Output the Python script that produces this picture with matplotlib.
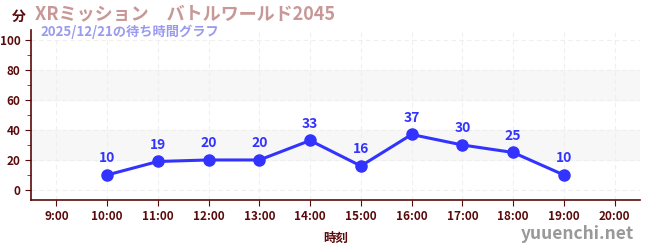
import matplotlib.pyplot as plt
import numpy as np

plt.rcParams['font.family'] = ['Noto Sans CJK JP', 'DejaVu Sans']

hours = [10, 11, 12, 13, 14, 15, 16, 17, 18, 19]
waits = [10, 19, 20, 20, 33, 16, 37, 30, 25, 10]
xticks = list(range(9, 21))
xlabels = [f'{h}:00' for h in xticks]
yticks = [0, 20, 40, 60, 80, 100]

dark = '#5a0a0a'
line_c = '#3333ff'

fig = plt.figure(figsize=(6.5, 2.5), dpi=100)
ax = fig.add_axes([31/650, 50/250, 609/650, 170/250])

ax.set_xlim(8.5, 20.5)
ax.set_ylim(-6.7, 106.7)

for lo, hi in [(20, 40), (60, 80)]:
    ax.axhspan(lo, hi, color='#f7f7f7', zorder=0)

ax.set_xticks(xticks)
ax.set_xticklabels(xlabels)
ax.set_yticks(yticks)
ax.set_yticks(np.arange(10, 100, 20), minor=True)
ax.grid(True, which='major', color='#efefef', linestyle=(0, (4, 3)), linewidth=0.8, zorder=1)

ax.plot(hours, waits, color=line_c, linewidth=2.2, marker='o', markersize=8, zorder=3)
for h, w in zip(hours, waits):
    ax.annotate(str(w), (h, w), xytext=(0, 7), textcoords='offset points',
                ha='center', va='bottom', color=line_c, fontsize=10, fontweight='bold')

for s in ['top', 'right']:
    ax.spines[s].set_visible(False)
for s in ['left', 'bottom']:
    ax.spines[s].set_color(dark)
    ax.spines[s].set_linewidth(1.2)

ax.tick_params(axis='both', which='major', colors=dark, labelsize=8.5, length=4)
ax.tick_params(axis='y', which='minor', colors='#cc0000', length=3)
for lab in ax.get_xticklabels() + ax.get_yticklabels():
    lab.set_fontweight('bold')

ax.set_xlabel('時刻', color=dark, fontsize=9, fontweight='bold', labelpad=6)

fig.text(12/650, 1 - 17/250, '分', color=dark, fontsize=10, fontweight='bold', va='center', ha='left')
fig.text(35/650, 1 - 14/250, 'XRミッション　バトルワールド2045', color='#c89898',
         fontsize=13, fontweight='bold', va='center', ha='left')
fig.text(40/650, 1 - 32/250, '2025/12/21の待ち時間グラフ', color='#9a9af0',
         fontsize=9.5, fontweight='bold', va='center', ha='left')
fig.text(634/650, 1 - 234/250, 'yuuenchi.net', color='#999999', fontsize=12.5,
         fontweight='bold', va='center', ha='right')

fig.savefig('out.png', dpi=100)
